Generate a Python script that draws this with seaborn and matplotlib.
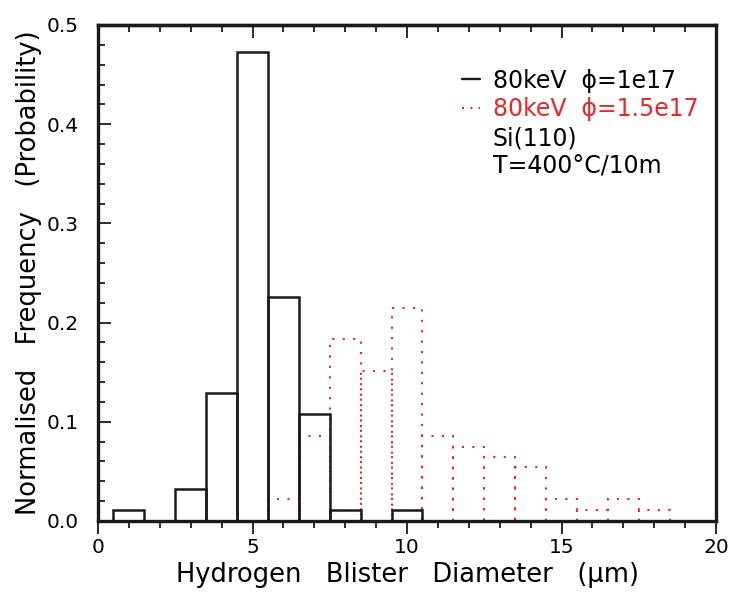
import numpy as np
import pandas as pd
import matplotlib
matplotlib.use("Agg")
import matplotlib.pyplot as plt
import seaborn as sns
from matplotlib.lines import Line2D
from matplotlib.ticker import MultipleLocator, FormatStrFormatter

# Blister diameter bins (um, bin centres, width 1) and normalised frequencies
diam_1e17 = [1, 2, 3, 4, 5, 6, 7, 8, 9, 10]
freq_1e17 = [0.011, 0.0, 0.032, 0.129, 0.473, 0.226, 0.108, 0.011, 0.0, 0.011]

diam_15e17 = [5, 6, 7, 8, 9, 10, 11, 12, 13, 14, 15, 16, 17, 18]
freq_15e17 = [0.0, 0.022, 0.086, 0.183, 0.151, 0.215, 0.086, 0.075,
              0.065, 0.054, 0.022, 0.011, 0.022, 0.011]

legend_labels = ["80keV  \u03d5=1e17", "80keV  \u03d5=1.5e17", "Si(110)", "T=400\u00b0C/10m"]

RED = "#e8262b"
INK = "#1a1a1a"
BIN_W = 1.0

sns.set_theme(style="ticks")
plt.rcParams["font.family"] = ["DejaVu Sans"]
plt.rcParams.update({"text.color": "black", "axes.labelcolor": "black",
                     "xtick.color": INK, "ytick.color": INK,
                     "xtick.labelcolor": "black", "ytick.labelcolor": "black"})


def edges_of(centres):
    c = np.asarray(centres, dtype=float)
    return list(np.append(c - BIN_W / 2, c[-1] + BIN_W / 2))


df_a = pd.DataFrame({"d": diam_1e17, "f": freq_1e17})
df_b = pd.DataFrame({"d": diam_15e17, "f": freq_15e17})

fig = plt.figure(figsize=(7.35, 5.96), dpi=100)
ax = fig.add_axes([98 / 735, 75 / 596, 618 / 735, 496 / 596])

sns.histplot(data=df_b, x="d", weights="f", bins=edges_of(diam_15e17),
             element="bars", fill=False, color=RED, linewidth=1.5,
             linestyle=(0, (1, 4)), ax=ax)
sns.histplot(data=df_a, x="d", weights="f", bins=edges_of(diam_1e17),
             element="bars", fill=False, color=INK, linewidth=1.8, ax=ax)

ax.set_xlim(0, 20)
ax.set_ylim(0, 0.5)

for side in ["left", "bottom", "right", "top"]:
    ax.spines[side].set_visible(True)
    ax.spines[side].set_linewidth(2.4)
    ax.spines[side].set_color(INK)

ax.xaxis.set_major_locator(MultipleLocator(5))
ax.xaxis.set_minor_locator(MultipleLocator(1))
ax.yaxis.set_major_locator(MultipleLocator(0.1))
ax.yaxis.set_minor_locator(MultipleLocator(0.02))
ax.yaxis.set_major_formatter(FormatStrFormatter("%.1f"))

ax.tick_params(axis="x", which="both", direction="out", bottom=True, top=False,
               width=1.3, labelsize=14.5, pad=3)
ax.tick_params(axis="x", which="major", length=9.5)
ax.tick_params(axis="x", which="minor", length=5)
ax.tick_params(axis="y", which="both", direction="in", left=True, right=False,
               width=1.3, labelsize=14.5, pad=14)
ax.tick_params(axis="y", which="major", length=9.5)
ax.tick_params(axis="y", which="minor", length=5)

top = ax.secondary_xaxis("top")
top.xaxis.set_major_locator(MultipleLocator(5))
top.xaxis.set_minor_locator(MultipleLocator(1))
top.tick_params(axis="x", which="both", direction="in", labeltop=False, width=1.3)
top.tick_params(axis="x", which="major", length=9.5)
top.tick_params(axis="x", which="minor", length=5)
top.spines["top"].set_linewidth(2.4)
top.spines["top"].set_color(INK)

ax.set_xlabel("Hydrogen   Blister   Diameter   (\u03bcm)", fontsize=18.5, labelpad=3)
ax.set_ylabel("Normalised   Frequency   (Probability)", fontsize=18.5, labelpad=3)

handles = [
    Line2D([], [], color=INK, lw=1.7),
    Line2D([], [], color=RED, lw=1.5, linestyle=(0, (1, 3))),
    Line2D([], [], alpha=0),
    Line2D([], [], alpha=0),
]
leg = ax.legend(handles, legend_labels, loc="upper left",
                bbox_to_anchor=(0.589, 0.912), frameon=False,
                fontsize=17, handlelength=0.76, handletextpad=0.55,
                labelspacing=0.2, borderpad=0, borderaxespad=0)
leg.get_texts()[1].set_color(RED)

fig.savefig("out.png", dpi=100)
